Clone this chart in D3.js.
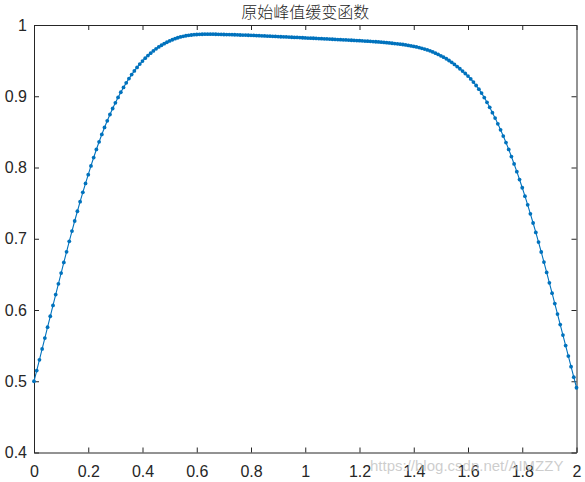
<!DOCTYPE html>
<html>
<head>
<meta charset="utf-8">
<script src="https://cdn.jsdelivr.net/npm/d3@7"></script>
<style>
  body { margin: 0; background: #fff; }
  svg { display: block; }
</style>
</head>
<body>
<div id="chart"></div>
<script>
// sample positions (0 : 0.01 : 2)
var xValues = [
  0.00,0.01,0.02,0.03,0.04,0.05,0.06,0.07,0.08,0.09,
  0.10,0.11,0.12,0.13,0.14,0.15,0.16,0.17,0.18,0.19,
  0.20,0.21,0.22,0.23,0.24,0.25,0.26,0.27,0.28,0.29,
  0.30,0.31,0.32,0.33,0.34,0.35,0.36,0.37,0.38,0.39,
  0.40,0.41,0.42,0.43,0.44,0.45,0.46,0.47,0.48,0.49,
  0.50,0.51,0.52,0.53,0.54,0.55,0.56,0.57,0.58,0.59,
  0.60,0.61,0.62,0.63,0.64,0.65,0.66,0.67,0.68,0.69,
  0.70,0.71,0.72,0.73,0.74,0.75,0.76,0.77,0.78,0.79,
  0.80,0.81,0.82,0.83,0.84,0.85,0.86,0.87,0.88,0.89,
  0.90,0.91,0.92,0.93,0.94,0.95,0.96,0.97,0.98,0.99,
  1.00,1.01,1.02,1.03,1.04,1.05,1.06,1.07,1.08,1.09,
  1.10,1.11,1.12,1.13,1.14,1.15,1.16,1.17,1.18,1.19,
  1.20,1.21,1.22,1.23,1.24,1.25,1.26,1.27,1.28,1.29,
  1.30,1.31,1.32,1.33,1.34,1.35,1.36,1.37,1.38,1.39,
  1.40,1.41,1.42,1.43,1.44,1.45,1.46,1.47,1.48,1.49,
  1.50,1.51,1.52,1.53,1.54,1.55,1.56,1.57,1.58,1.59,
  1.60,1.61,1.62,1.63,1.64,1.65,1.66,1.67,1.68,1.69,
  1.70,1.71,1.72,1.73,1.74,1.75,1.76,1.77,1.78,1.79,
  1.80,1.81,1.82,1.83,1.84,1.85,1.86,1.87,1.88,1.89,
  1.90,1.91,1.92,1.93,1.94,1.95,1.96,1.97,1.98,1.99,
  2.00
];

// values
var yValues = [
  0.5000,0.5150,0.5301,0.5453,0.5606,0.5759,0.5912,0.6064,0.6216,0.6367,
  0.6518,0.6668,0.6817,0.6964,0.7108,0.7249,0.7386,0.7520,0.7651,0.7777,
  0.7900,0.8022,0.8140,0.8253,0.8361,0.8464,0.8562,0.8655,0.8744,0.8828,
  0.8908,0.8984,0.9056,0.9124,0.9188,0.9248,0.9304,0.9356,0.9405,0.9451,
  0.9494,0.9534,0.9571,0.9605,0.9636,0.9665,0.9692,0.9716,0.9738,0.9758,
  0.9776,0.9793,0.9808,0.9821,0.9832,0.9841,0.9849,0.9855,0.9860,0.9864,
  0.9867,0.9869,0.9870,0.9871,0.9871,0.9871,0.9871,0.9870,0.9869,0.9868,
  0.9867,0.9866,0.9865,0.9864,0.9863,0.9862,0.9860,0.9859,0.9858,0.9856,
  0.9855,0.9853,0.9851,0.9850,0.9848,0.9846,0.9844,0.9843,0.9841,0.9839,
  0.9837,0.9835,0.9834,0.9832,0.9830,0.9828,0.9826,0.9825,0.9823,0.9821,
  0.9819,0.9817,0.9815,0.9814,0.9812,0.9810,0.9808,0.9806,0.9804,0.9802,
  0.9800,0.9798,0.9796,0.9794,0.9792,0.9790,0.9788,0.9786,0.9784,0.9782,
  0.9780,0.9778,0.9775,0.9773,0.9771,0.9768,0.9765,0.9762,0.9759,0.9756,
  0.9752,0.9748,0.9744,0.9740,0.9736,0.9731,0.9726,0.9720,0.9714,0.9707,
  0.9700,0.9692,0.9683,0.9673,0.9662,0.9650,0.9637,0.9622,0.9605,0.9587,
  0.9568,0.9548,0.9526,0.9502,0.9476,0.9447,0.9417,0.9386,0.9353,0.9319,
  0.9283,0.9243,0.9199,0.9151,0.9100,0.9044,0.8982,0.8915,0.8844,0.8770,
  0.8693,0.8613,0.8529,0.8441,0.8350,0.8254,0.8154,0.8050,0.7942,0.7831,
  0.7716,0.7598,0.7476,0.7350,0.7221,0.7089,0.6953,0.6814,0.6672,0.6528,
  0.6382,0.6236,0.6090,0.5943,0.5796,0.5648,0.5501,0.5353,0.5205,0.5057,
  0.4909
];

var xTicks = [0, 0.2, 0.4, 0.6, 0.8, 1, 1.2, 1.4, 1.6, 1.8, 2];
var yTicks = [0.4, 0.5, 0.6, 0.7, 0.8, 0.9, 1];

var title = "原始峰值缓变函数";
var watermark = "https://blog.csdn.net/AIMZZY";

const margin = { top: 25, right: 8.5, bottom: 29.5, left: 34 };
const width = 585 - margin.left - margin.right;
const height = 482 - margin.top - margin.bottom;

const axisColor = "#262626";
const lineColor = "#0072bd";
const fontFamily = "'Liberation Sans', Arial, Helvetica, sans-serif";

var data = xValues.map((x, i) => ({ x: x, y: yValues[i] }));

var xScale = d3.scaleLinear().domain([0, 2]).range([0, width]);
var yScale = d3.scaleLinear().domain([0.4, 1]).range([height, 0]);

const svg = d3.select("#chart")
  .append("svg")
    .attr("width", 585)
    .attr("height", 482)
  .append("g")
    .attr("transform", `translate(${margin.left}, ${margin.top})`);

function styleAxis(g) {
  g.attr("font-family", fontFamily).attr("font-size", 16);
  g.select(".domain").attr("stroke", axisColor).attr("stroke-width", 1);
  g.selectAll(".tick line").attr("stroke", axisColor).attr("stroke-width", 1);
  g.selectAll(".tick text").attr("fill", axisColor);
}

// bottom + left carry labels, ticks point inward like matlab
svg.append("g")
  .attr("transform", `translate(0,${height})`)
  .call(d3.axisBottom(xScale).tickValues(xTicks).tickFormat(d3.format("")).tickSizeInner(-5).tickSizeOuter(0).tickPadding(13))
  .call(styleAxis);

svg.append("g")
  .call(d3.axisLeft(yScale).tickValues(yTicks).tickFormat(d3.format("")).tickSizeInner(-5).tickSizeOuter(0).tickPadding(7))
  .call(styleAxis);

svg.append("g")
  .call(d3.axisTop(xScale).tickValues(xTicks).tickFormat("").tickSizeInner(-5).tickSizeOuter(0))
  .call(styleAxis);

svg.append("g")
  .attr("transform", `translate(${width},0)`)
  .call(d3.axisRight(yScale).tickValues(yTicks).tickFormat("").tickSizeInner(-5).tickSizeOuter(0))
  .call(styleAxis);

var line = d3.line()
  .x(d => xScale(d.x))
  .y(d => yScale(d.y));

svg.append("path")
  .datum(data)
  .attr("fill", "none")
  .attr("stroke", lineColor)
  .attr("stroke-width", 1.1)
  .attr("d", line);

svg.selectAll(".dot")
  .data(data)
  .enter()
  .append("circle")
  .attr("class", "dot")
  .attr("cx", d => xScale(d.x))
  .attr("cy", d => yScale(d.y))
  .attr("r", 1.9)
  .attr("fill", lineColor);

svg.append("text")
  .attr("x", width / 2)
  .attr("y", -7)
  .attr("text-anchor", "middle")
  .attr("font-family", "'Noto Sans CJK SC', sans-serif")
  .attr("font-weight", 300)
  .attr("font-size", 16)
  .attr("fill", axisColor)
  .text(title);

// blog watermark stamped over the bottom right corner
svg.append("text")
  .attr("x", 336)
  .attr("y", height + 18.5)
  .attr("font-family", fontFamily)
  .attr("font-size", 15)
  .attr("fill", "#bdbdbd")
  .attr("fill-opacity", 0.75)
  .text(watermark);
</script>
</body>
</html>
